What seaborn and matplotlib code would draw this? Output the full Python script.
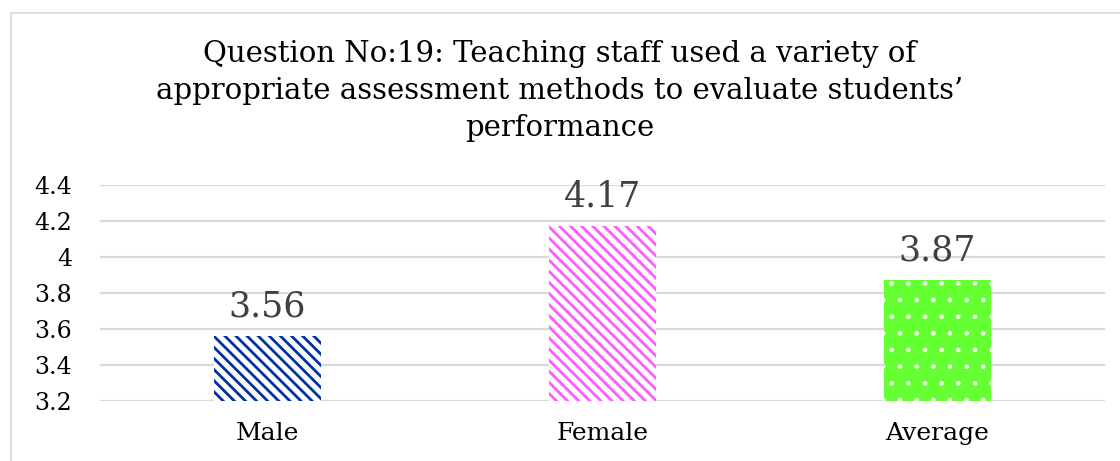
import matplotlib
matplotlib.use("Agg")
import matplotlib.pyplot as plt
import matplotlib.patches as mpatches
import seaborn as sns

# data
categories = ["Male", "Female", "Average"]
values = [3.56, 4.17, 3.87]
y_ticks = [3.2, 3.4, 3.6, 3.8, 4.0, 4.2, 4.4]
y_tick_labels = ["3.2", "3.4", "3.6", "3.8", "4", "4.2", "4.4"]
title = ("Question No:19: Teaching staff used a variety of\n"
         "appropriate assessment methods to evaluate students\u2019\n"
         "performance")

bar_colors = ["#0033A0", "#FF5CFF", "#66FF33"]
bar_hatches = ["\\\\\\", "\\\\\\", "."]
grid_color = "#D9D9D9"

sns.set_style("white")
plt.rcParams["font.family"] = ["DejaVu Serif", "DejaVu Sans"]
plt.rcParams["hatch.linewidth"] = 2.0

fig = plt.figure(figsize=(11.2, 4.61), dpi=100)
ax = fig.add_axes([100 / 1120, 60 / 461, 1005 / 1120, 216 / 461])

sns.barplot(x=categories, y=values, hue=categories, palette=bar_colors,
            legend=False, width=0.32, ax=ax, zorder=3)

# patterned fills like the original office chart
for patch, color, hatch in zip(ax.patches, bar_colors, bar_hatches):
    patch.set_hatch(hatch)
    patch.set_linewidth(0)
    if hatch == ".":
        patch.set_facecolor(color)
        patch.set_edgecolor("white")
        if hasattr(patch, "set_hatch_linewidth"):
            patch.set_hatch_linewidth(0.8)
    else:
        patch.set_facecolor("white")
        patch.set_edgecolor(color)

for i, v in enumerate(values):
    ax.annotate(f"{v:.2f}", (i, v), xytext=(0, 14), textcoords="offset points",
                ha="center", va="baseline", fontsize=25, color="#404040")

ax.set_ylim(3.2, 4.4)
ax.set_xlim(-0.5, 2.5)
ax.set_yticks(y_ticks)
ax.set_yticklabels(y_tick_labels)
ax.yaxis.grid(True, color=grid_color, linewidth=1.6, zorder=0)
ax.set_axisbelow(True)
for s in ax.spines.values():
    s.set_visible(False)
ax.tick_params(axis="y", length=0, pad=20, labelsize=17, labelcolor="black")
ax.tick_params(axis="x", length=0, pad=15, labelsize=18, labelcolor="black")
ax.set_xlabel("")
ax.set_ylabel("")

fig.text(0.5, 1 - 40 / 461, title, ha="center", va="top", fontsize=21,
         linespacing=1.42, color="black")

# chart area border (right and bottom run off the image)
fig.add_artist(mpatches.Rectangle((11 / 1120, -0.1), 1.2, 1 - 13 / 461 + 0.1,
                                  transform=fig.transFigure, fill=False,
                                  edgecolor=grid_color, linewidth=1.2))

fig.savefig("out.png", dpi=100)
